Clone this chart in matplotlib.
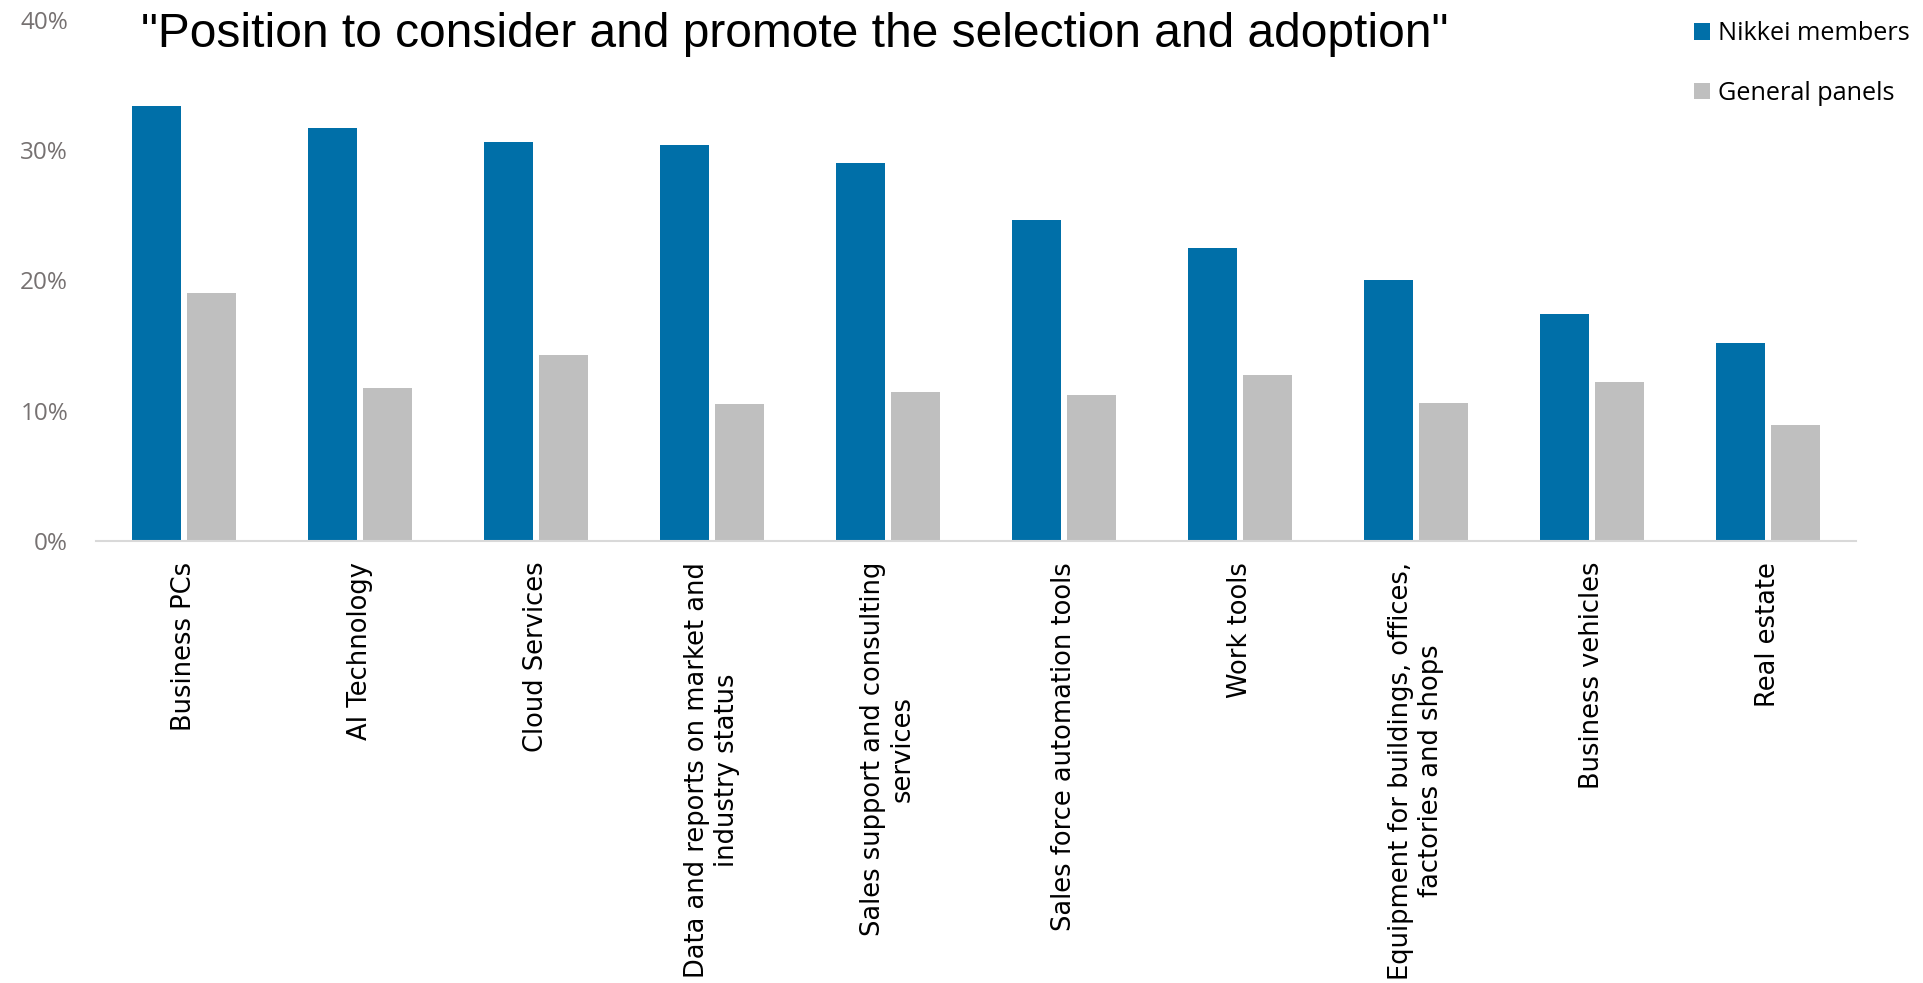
import matplotlib
matplotlib.use("Agg")
import matplotlib.pyplot as plt
import numpy as np

categories = [
    "Business PCs",
    "AI Technology",
    "Cloud Services",
    "Data and reports on market and\nindustry status",
    "Sales support and consulting\nservices",
    "Sales force automation tools",
    "Work tools",
    "Equipment for buildings, offices,\nfactories and shops",
    "Business vehicles",
    "Real estate",
]
nikkei_members = [33.4, 31.7, 30.6, 30.4, 29.0, 24.6, 22.5, 20.0, 17.4, 15.2]
general_panels = [19.0, 11.7, 14.3, 10.5, 11.4, 11.2, 12.7, 10.6, 12.2, 8.9]
series_names = ["Nikkei members", "General panels"]
y_ticks = [0, 10, 20, 30, 40]
title = '"Position to consider and promote the selection and adoption"'

BLUE = "#006FA8"
GRAY = "#BFBFBF"

fig = plt.figure(figsize=(19.23, 9.83), dpi=100)
ax = fig.add_axes([96 / 1923, 1 - 541 / 983, (1856 - 96) / 1923, (541 - 19.6) / 983])

x = np.arange(len(categories))
w = 0.279
off = 0.157
b1 = ax.bar(x - off, nikkei_members, width=w, color=BLUE, label=series_names[0])
b2 = ax.bar(x + off, general_panels, width=w, color=GRAY, label=series_names[1])

ax.set_xlim(-0.5, len(categories) - 0.5)
ax.set_ylim(0, 40)
ax.set_yticks(y_ticks)
ax.set_yticklabels([f"{v}%" for v in y_ticks], fontfamily="Open Sans", fontsize=17.5, color="#767171")
ax.tick_params(axis="y", length=0, pad=20)
ax.set_xticks(x)
ax.set_xticklabels(categories, rotation=90, fontfamily="DejaVu Sans", fontsize=18.5,
                   color="#000000", multialignment="center")
ax.tick_params(axis="x", length=0, pad=15)

for s in ["top", "right", "left"]:
    ax.spines[s].set_visible(False)
ax.spines["bottom"].set_color("#D9D9D9")
ax.spines["bottom"].set_linewidth(1.5)

fig.text(141 / 1923, 1 - 47 / 983, title, fontfamily="Liberation Sans", fontsize=34.5,
         color="#000000", ha="left", va="baseline")

leg = fig.legend(handles=[b1, b2], labels=series_names, loc="upper left",
                 bbox_to_anchor=(1694 / 1923, 1 - 21 / 983), frameon=False,
                 prop={"family": "Open Sans", "size": 18.2}, handlelength=0.65,
                 handleheight=0.65, handletextpad=0.3, labelspacing=1.38,
                 borderaxespad=0, borderpad=0)

fig.savefig("out.png", dpi=100)
